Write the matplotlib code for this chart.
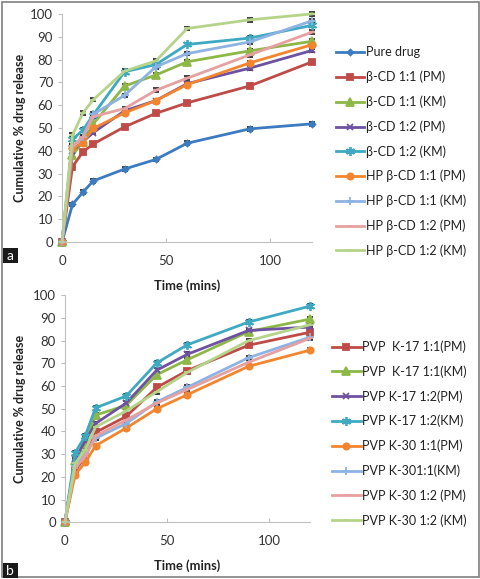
import matplotlib
matplotlib.use("Agg")
import matplotlib.pyplot as plt
from matplotlib.patches import Rectangle

plt.rcParams["font.family"] = ["Lato", "DejaVu Sans"]

# sampling times (mins)
time = [0, 5, 10, 15, 30, 45, 60, 90, 120]

# panel a: cyclodextrin complexes
labels_a = [
    "Pure drug",
    "β-CD 1:1 (PM)",
    "β-CD 1:1 (KM)",
    "β-CD 1:2 (PM)",
    "β-CD 1:2 (KM)",
    "HP β-CD 1:1 (PM)",
    "HP β-CD 1:1 (KM)",
    "HP β-CD 1:2 (PM)",
    "HP β-CD 1:2 (KM)",
]
pure_drug = [0, 16.5, 21.8, 26.8, 32, 36.2, 43.3, 49.6, 51.8]
bcd_11_pm = [0, 33, 39.5, 43, 50.5, 56.4, 61, 68.4, 79]
bcd_11_km = [0, 38, 44, 51.8, 68.4, 73.2, 79, 83.8, 88]
bcd_12_pm = [0, 40, 44, 48, 57.5, 62, 69.4, 76.2, 84]
bcd_12_km = [0, 45, 49, 55.8, 74.6, 77.8, 86.6, 89.4, 95]
hp_11_pm = [0, 41, 43.5, 49.8, 56.6, 62, 69, 78.5, 86.5]
hp_11_km = [0, 42, 46, 56, 64.3, 76.8, 82.6, 87.7, 97]
hp_12_pm = [0, 42, 46, 55, 58.5, 66.5, 71.8, 82, 92]
hp_12_km = [0, 46.8, 56.6, 62.4, 74.9, 79.4, 93.6, 97.4, 100]

# panel b: PVP complexes
labels_b = [
    "PVP  K-17 1:1(PM)",
    "PVP  K-17 1:1(KM)",
    "PVP K-17 1:2(PM)",
    "PVP K-17 1:2(KM)",
    "PVP K-30 1:1(PM)",
    "PVP K-301:1(KM)",
    "PVP K-30 1:2 (PM)",
    "PVP K-30 1:2 (KM)",
]
k17_11_pm = [0, 23, 28.6, 39.6, 46.6, 59.4, 66.8, 78, 83.7]
k17_11_km = [0, 27, 35, 47.2, 51.5, 65, 71.6, 84, 89.5]
k17_12_pm = [0, 28, 36, 43.5, 52.5, 67, 74, 84.5, 86]
k17_12_km = [0, 30.6, 38.2, 50.4, 55.6, 70.2, 78.2, 88.2, 95.2]
k30_11_pm = [0, 21, 26.4, 33.7, 41.5, 50, 56.2, 68.7, 75.8]
k30_11_km = [0, 25, 30, 37, 43.5, 53, 59.5, 72.5, 81.5]
k30_12_pm = [0, 24, 29, 38, 45, 52.5, 58.5, 70.5, 81]
k30_12_km = [0, 26, 32, 42, 49, 57.5, 66, 80, 87]

# small SD bars shown on the points
sd = [0.6, 0.8, 0.8, 0.8, 0.8, 0.8, 0.8, 0.8, 0.8]

ASTER = (6, 2, 0)
colors_a = ["#3C7BC0", "#BE4B48", "#8DB848", "#6E51A0", "#3FA9C2",
            "#F4852F", "#8DB3E2", "#E6A0A0", "#B5D48A"]
markers_a = ["D", "s", "^", "x", ASTER, "o", "+", "_", "_"]
sizes_a = [3, 4.5, 5.5, 5, 6.5, 4.5, 6, 5, 5]

colors_b = ["#BE4B48", "#8DB848", "#6E51A0", "#3FA9C2",
            "#F4852F", "#8DB3E2", "#E6A0A0", "#B5D48A"]
markers_b = ["s", "^", "x", ASTER, "o", "+", "_", "_"]
sizes_b = [4.5, 5.5, 5, 6.5, 4.5, 6, 5, 5]

series_a = [pure_drug, bcd_11_pm, bcd_11_km, bcd_12_pm, bcd_12_km,
            hp_11_pm, hp_11_km, hp_12_pm, hp_12_km]
series_b = [k17_11_pm, k17_11_km, k17_12_pm, k17_12_km,
            k30_11_pm, k30_11_km, k30_12_pm, k30_12_km]

fig = plt.figure(figsize=(4.81, 5.79), dpi=100)

ax_a = fig.add_axes([0.129, 0.582, 0.520, 0.394])
ax_b = fig.add_axes([0.135, 0.098, 0.509, 0.392])


def draw_panel(ax, series, labels, colors, markers, sizes,
               legend_x, legend_top, ylab_x):
    for vals, lab, c, m, s in zip(series, labels, colors, markers, sizes):
        cont = ax.errorbar(time, vals, yerr=sd, color=c, lw=2.0, marker=m,
                           markersize=s, markeredgewidth=1.3,
                           ecolor="#333333", elinewidth=0.6, capsize=2,
                           capthick=0.6, label=lab)
        for art in cont.get_children():
            art.set_clip_on(False)
    ax.set_xlim(0, 120)
    ax.set_ylim(0, 100)
    ax.set_xticks([0, 50, 100])
    ax.set_yticks(range(0, 101, 10))
    for side in ["top", "right"]:
        ax.spines[side].set_visible(False)
    for side in ["left", "bottom"]:
        ax.spines[side].set_color("#BFBFBF")
        ax.spines[side].set_linewidth(0.8)
    ax.tick_params(axis="both", colors="#BFBFBF", labelcolor="#333333",
                   labelsize=9.5, length=3, width=0.8)
    ax.tick_params(axis="x", direction="in", pad=9)
    ax.set_xlabel("Time (mins)", fontsize=9.3, fontweight="bold",
                  color="#222222", labelpad=9)
    ax.set_ylabel("Cumulative % drug release", fontsize=9,
                  fontweight="bold", color="#222222")
    ax.yaxis.set_label_coords(ylab_x, 0.5)
    handles, labs = ax.get_legend_handles_labels()
    handles = [h[0] for h in handles]
    leg = ax.legend(handles, labs, loc="upper left",
                    bbox_to_anchor=(legend_x, legend_top), frameon=False,
                    fontsize=9, handlelength=2.3, handletextpad=0.1,
                    labelspacing=0.98, borderaxespad=0)
    for t in leg.get_texts():
        t.set_color("#222222")


draw_panel(ax_a, series_a, labels_a, colors_a, markers_a, sizes_a,
           1.074, 0.879, -0.144)
draw_panel(ax_b, series_b, labels_b, colors_b, markers_b, sizes_b,
           1.07, 0.823, -0.159)

# outer frame
fig.patches.append(Rectangle((0.004, 0.003), 0.992, 0.994,
                             transform=fig.transFigure, fill=False,
                             edgecolor="#7F7F7F", lw=1.2))

# panel tags
for letter, ybox in [("a", 1 - 263 / 579), ("b", 1 - 578 / 579)]:
    fig.patches.append(Rectangle((0.006, ybox), 0.031, 15 / 579,
                                 transform=fig.transFigure,
                                 facecolor="#1A1A1A", edgecolor="none"))
    fig.text(0.0215, ybox + 7 / 579, letter, color="white", fontsize=10,
             ha="center", va="center")

fig.savefig("out.png", dpi=100)
